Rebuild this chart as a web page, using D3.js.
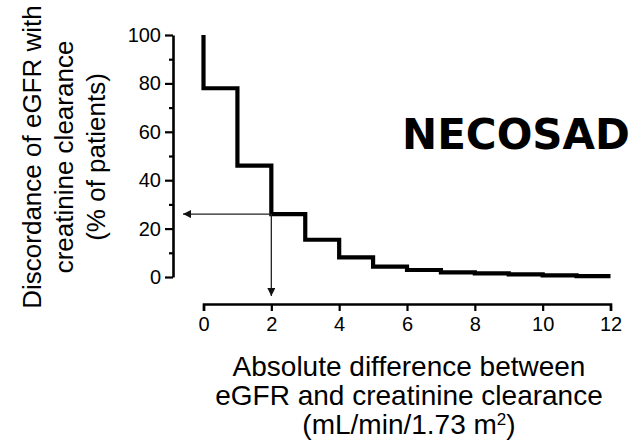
<!DOCTYPE html>
<html>
<head>
<meta charset="utf-8">
<script src="https://cdn.jsdelivr.net/npm/d3@7"></script>
<style>
  html, body { margin: 0; padding: 0; background: #fff; }
  svg { display: block; }
  text { font-family: "Liberation Sans", Arial, Helvetica, sans-serif; fill: #000; }
</style>
</head>
<body>
<svg id="chart" width="633" height="442"></svg>
<script>
// Absolute eGFR – creatinine clearance difference (mL/min/1.73 m²)
const diffSteps = [0, 0, 1, 2, 3, 4, 5, 6, 7, 8, 9, 10, 11, 12];
// Share of patients whose discordance exceeds that difference (%)
const discordancePct = [100, 78, 46, 26, 15.4, 8.1, 4.3, 2.9, 1.9, 1.5, 1.1, 0.7, 0.4, 0.4];

const xTicks = [0, 2, 4, 6, 8, 10, 12];
const yTicks = [0, 20, 40, 60, 80, 100];
const yMinorTicks = [10, 30, 50, 70, 90];

// Reference reading marked with arrows
const readX = 2;
const readY = 26;

const yTitleLines = ["Discordance of eGFR with", "creatinine clearance", "(% of patients)"];
const xTitleLines = ["Absolute difference between", "eGFR and creatinine clearance"];
const cohortLabel = "NECOSAD";

const svg = d3.select("#chart");

const x = d3.scaleLinear().domain([0, 12]).range([203.5, 610.5]);
const y = d3.scaleLinear().domain([0, 100]).range([277, 35]);

const yAxisX = 173;
const xAxisY = 304;

// Arrow marker
const defs = svg.append("defs");
defs.append("marker")
  .attr("id", "arrowhead")
  .attr("viewBox", "0 0 10 10")
  .attr("refX", 10).attr("refY", 5)
  .attr("markerWidth", 10).attr("markerHeight", 8)
  .attr("markerUnits", "userSpaceOnUse")
  .attr("orient", "auto")
  .append("path")
  .attr("d", "M0,0 L10,5 L0,10 Z")
  .attr("fill", "#111");

// Y axis (offset to the left of the plot)
const yAxis = svg.append("g")
  .attr("transform", `translate(${yAxisX},0)`)
  .call(d3.axisLeft(y).tickValues(yTicks).tickSize(8).tickSizeOuter(0).tickPadding(4));
yAxis.select(".domain").attr("stroke-width", 2.6).attr("stroke", "#000");
yAxis.selectAll(".tick line").attr("stroke-width", 2.2).attr("stroke", "#000");
yAxis.selectAll(".tick text")
  .attr("font-size", 20)
  .attr("font-family", "Liberation Sans, Arial, sans-serif")
  .attr("fill", "#000");

const yMinor = svg.append("g")
  .attr("transform", `translate(${yAxisX},0)`)
  .call(d3.axisLeft(y).tickValues(yMinorTicks).tickSize(4).tickFormat(""));
yMinor.select(".domain").remove();
yMinor.selectAll(".tick line").attr("stroke-width", 2.2).attr("stroke", "#000");

// X axis (offset below the plot)
const xAxis = svg.append("g")
  .attr("transform", `translate(0,${xAxisY})`)
  .call(d3.axisBottom(x).tickValues(xTicks).tickSize(7).tickSizeOuter(7).tickPadding(6));
xAxis.select(".domain").attr("stroke-width", 2.6).attr("stroke", "#000");
xAxis.selectAll(".tick line").attr("stroke-width", 2.2).attr("stroke", "#000");
xAxis.selectAll(".tick text")
  .attr("font-size", 20)
  .attr("font-family", "Liberation Sans, Arial, sans-serif")
  .attr("fill", "#000");

// Step curve
const pts = diffSteps.map((d, i) => [d, discordancePct[i]]);
svg.append("path")
  .datum(pts)
  .attr("fill", "none")
  .attr("stroke", "#000")
  .attr("stroke-width", 4.2)
  .attr("stroke-linejoin", "miter")
  .attr("d", d3.line().x(d => x(d[0])).y(d => y(d[1])).curve(d3.curveStepAfter));

// Reading arrows: to the y axis and down to the x axis
svg.append("line")
  .attr("x1", x(readX)).attr("y1", y(readY))
  .attr("x2", yAxisX + 10).attr("y2", y(readY))
  .attr("stroke", "#222").attr("stroke-width", 1.3)
  .attr("marker-end", "url(#arrowhead)");
svg.append("line")
  .attr("x1", x(readX)).attr("y1", y(readY))
  .attr("x2", x(readX)).attr("y2", xAxisY - 8)
  .attr("stroke", "#222").attr("stroke-width", 1.3)
  .attr("marker-end", "url(#arrowhead)");

// Cohort label
svg.append("text")
  .attr("x", 402).attr("y", 149)
  .attr("font-weight", "bold")
  .attr("font-size", 42)
  .style("font-family", "'DejaVu Sans', Verdana, sans-serif")
  .text(cohortLabel);

// Y axis title
const yTitle = svg.append("text")
  .attr("transform", `translate(0,157) rotate(-90)`)
  .attr("text-anchor", "middle")
  .attr("font-size", 26);
const yBase = [41, 73, 105];
yTitleLines.forEach((t, i) => {
  yTitle.append("tspan").attr("x", 0).attr("y", yBase[i]).text(t);
});

// X axis title
const xTitle = svg.append("text")
  .attr("text-anchor", "middle")
  .attr("font-size", 28);
const xBase = [376, 405, 434];
xTitleLines.forEach((t, i) => {
  xTitle.append("tspan").attr("x", 409).attr("y", xBase[i]).text(t);
});
const unitLine = xTitle.append("tspan").attr("x", 409).attr("y", xBase[2]);
unitLine.text("(mL/min/1.73 m");
xTitle.append("tspan").attr("dy", -9).attr("font-size", 17).text("2");
xTitle.append("tspan").attr("dy", 9).text(")");
</script>
</body>
</html>
